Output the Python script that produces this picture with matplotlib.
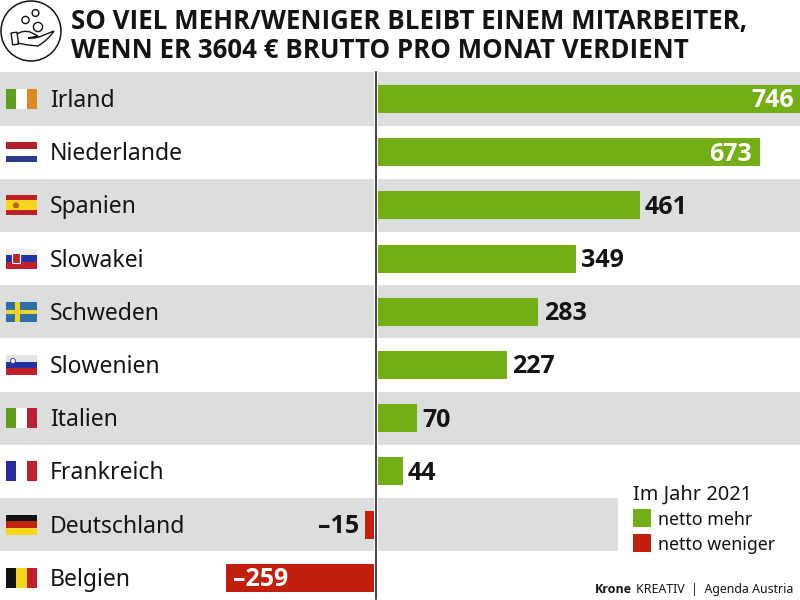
import numpy as np
from matplotlib import pyplot as plt
from matplotlib.patches import Rectangle, Circle, PathPatch
from matplotlib.path import Path

countries = ['Irland', 'Niederlande', 'Spanien', 'Slowakei', 'Schweden',
             'Slowenien', 'Italien', 'Frankreich', 'Deutschland', 'Belgien']
values = [746, 673, 461, 349, 283, 227, 70, 44, -15, -259]
value_labels = ['746', '673', '461', '349', '283', '227', '70', '44', '–15', '–259']
title_lines = ['SO VIEL MEHR/WENIGER BLEIBT EINEM MITARBEITER,',
               'WENN ER 3604 € BRUTTO PRO MONAT VERDIENT']
legend_title = 'Im Jahr 2021'
legend_labels = ['netto mehr', 'netto weniger']

GREEN = '#72ae14'
RED = '#c2200c'
GRAY = '#dcdedd'
INK = '#141414'
PX_PER_UNIT = 0.568
ZERO_PX = 377
ROW_PX = 53.2
FIRST_ROW_PX = 99
LABEL_SHIFT = -0.02

# stripes per flag: direction, colours
flags = {
    'Irland': ('v', ['#5f9e1c', '#ffffff', '#d98a25']),
    'Niederlande': ('h', ['#b3202c', '#ffffff', '#2a3a8c']),
    'Spanien': ('h', ['#bd2026', '#f5d51e', '#f5d51e', '#bd2026']),
    'Slowakei': ('h', ['#eeeeee', '#2233a8', '#c0202a']),
    'Schweden': ('h', ['#2f6fa8', '#2f6fa8']),
    'Slowenien': ('h', ['#e4e4e4', '#2233a8', '#c0202a']),
    'Italien': ('v', ['#5f9e1c', '#ffffff', '#b8203a']),
    'Frankreich': ('v', ['#2a2a9c', '#ffffff', '#c0202a']),
    'Deutschland': ('h', ['#111111', '#c0260f', '#f5d51e']),
    'Belgien': ('v', ['#111111', '#f5d51e', '#c0202a']),
}


def draw_flag(ax, name, yc):
    x0, w, h = 6, 31, 20
    top = yc - h / 2
    direction, colors = flags[name]
    n = len(colors)
    for i, color in enumerate(colors):
        if direction == 'v':
            ax.add_patch(Rectangle((x0 + i * w / n, top), w / n, h, fc=color, ec='none'))
        else:
            ax.add_patch(Rectangle((x0, top + i * h / n), w, h / n, fc=color, ec='none'))
    if name == 'Schweden':
        ax.add_patch(Rectangle((x0 + 9, top), 5, h, fc='#f0d526', ec='none'))
        ax.add_patch(Rectangle((x0, top + 8), w, 4, fc='#f0d526', ec='none'))
    if name == 'Spanien':
        ax.add_patch(Circle((x0 + 10, yc), 3, fc='#b5651d', ec='none'))
    if name == 'Slowakei':
        ax.add_patch(Rectangle((x0 + 6, top + 4), 8, 10, fc='#c0202a', ec='white', lw=0.8))
    if name == 'Slowenien':
        ax.add_patch(Circle((x0 + 7, top + 6), 2.5, fc='white', ec='#2233a8', lw=0.6))


def draw_icon(ax):
    ax.add_patch(Circle((31, 31), 30, fc='white', ec=INK, lw=1.1))
    for x, y, r in [(25.5, 20, 3.6), (35.5, 13, 3.4), (38, 27, 4.6)]:
        ax.add_patch(Circle((x, y), r, fc='none', ec=INK, lw=1.0))
    ax.add_patch(Rectangle((11, 33), 6, 12, angle=-8, fc='none', ec=INK, lw=1.0))
    hand = Path([(17, 34), (23, 30), (30, 32), (38, 36), (28, 38), (28, 38), (36, 39),
                 (44, 35), (54, 31), (48, 40), (38, 46), (28, 45), (17, 43)],
                [Path.MOVETO, Path.CURVE3, Path.CURVE3, Path.LINETO, Path.LINETO, Path.MOVETO,
                 Path.CURVE3, Path.CURVE3, Path.LINETO, Path.CURVE3, Path.CURVE3, Path.LINETO,
                 Path.LINETO])
    ax.add_patch(PathPatch(hand, fc='none', ec=INK, lw=1.0))


fig = plt.figure(figsize=(8, 6), dpi=100, facecolor='white')
ax = fig.add_axes([0, 0, 1, 1])
ax.set_xlim(-ZERO_PX / PX_PER_UNIT, (800 - ZERO_PX) / PX_PER_UNIT)
ax.set_ylim((600 - FIRST_ROW_PX) / ROW_PX, -FIRST_ROW_PX / ROW_PX)
ax.axis('off')

over = fig.add_axes([0, 0, 1, 1])
over.set_xlim(0, 800)
over.set_ylim(600, 0)
over.axis('off')
over.patch.set_alpha(0)

y = np.arange(len(countries))
gap = 3.5 / PX_PER_UNIT
split = 0.7 / PX_PER_UNIT

# grey bands, cut out around the zero line
for i in range(0, len(countries), 2):
    ax.barh(i, -ZERO_PX / PX_PER_UNIT + gap, left=-gap, height=1, color=GRAY, lw=0, zorder=1)
    right = 240 if countries[i] == 'Deutschland' else 423
    ax.barh(i, right / PX_PER_UNIT, left=split, height=1, color=GRAY, lw=0, zorder=1)

for i, v in enumerate(values):
    if v > 0:
        ax.barh(i, v, left=split, height=0.53, color=GREEN, lw=0, zorder=2)
    else:
        ax.barh(i, v, left=-gap, height=0.53, color=RED, lw=0, zorder=2)

ax.plot([-1.2, -1.2], [-0.51, 9.4], color='#111111', lw=1.1, zorder=3)

for i, v in enumerate(values):
    yt = i + LABEL_SHIFT
    if v > 600:
        ax.text(v - 7 / PX_PER_UNIT, yt, value_labels[i], color='white', ha='right', va='center_baseline',
                fontsize=18, fontweight='bold', family='Open Sans', zorder=4)
    elif v > 0:
        ax.text(v + 6 / PX_PER_UNIT, yt, value_labels[i], color=INK, ha='left', va='center_baseline',
                fontsize=18, fontweight='bold', family='Open Sans', zorder=4)
    elif v > -100:
        ax.text(v - gap - 6 / PX_PER_UNIT, yt, value_labels[i], color=INK, ha='right', va='center_baseline',
                fontsize=18, fontweight='bold', family='Open Sans', zorder=4)
    else:
        ax.text(v + 3 / PX_PER_UNIT, yt, value_labels[i], color='white', ha='left', va='center_baseline',
                fontsize=18, fontweight='bold', family='Open Sans', zorder=4)
    over.text(50, FIRST_ROW_PX + i * ROW_PX - 1, countries[i], color=INK, ha='left', va='center_baseline',
              fontsize=16.5, family='Noto Sans')
    draw_flag(over, countries[i], FIRST_ROW_PX + i * ROW_PX)

over.text(71, 19, title_lines[0], fontsize=18.6, fontweight='bold', family='Open Sans',
          color=INK, ha='left', va='center_baseline')
over.text(71, 47, title_lines[1], fontsize=18.6, fontweight='bold', family='Open Sans',
          color=INK, ha='left', va='center_baseline')
draw_icon(over)

over.text(633, 492, legend_title, fontsize=14.4, family='Noto Sans', color=INK, ha='left', va='center_baseline')
for yc, color, label in zip([518, 543], [GREEN, RED], legend_labels):
    over.add_patch(Rectangle((633, yc - 9), 18, 18, fc=color, ec='none'))
    over.text(658, yc, label, fontsize=12.8, family='Noto Sans', color=INK, ha='left', va='center_baseline')

over.text(595, 588, 'Krone', fontsize=9, fontweight='bold', family='Open Sans', color=INK, ha='left', va='center_baseline')
over.text(636, 588, 'KREATIV  |  Agenda Austria', fontsize=8.9, family='Noto Sans', color=INK, ha='left', va='center_baseline')

fig.savefig('out.png', dpi=100)
